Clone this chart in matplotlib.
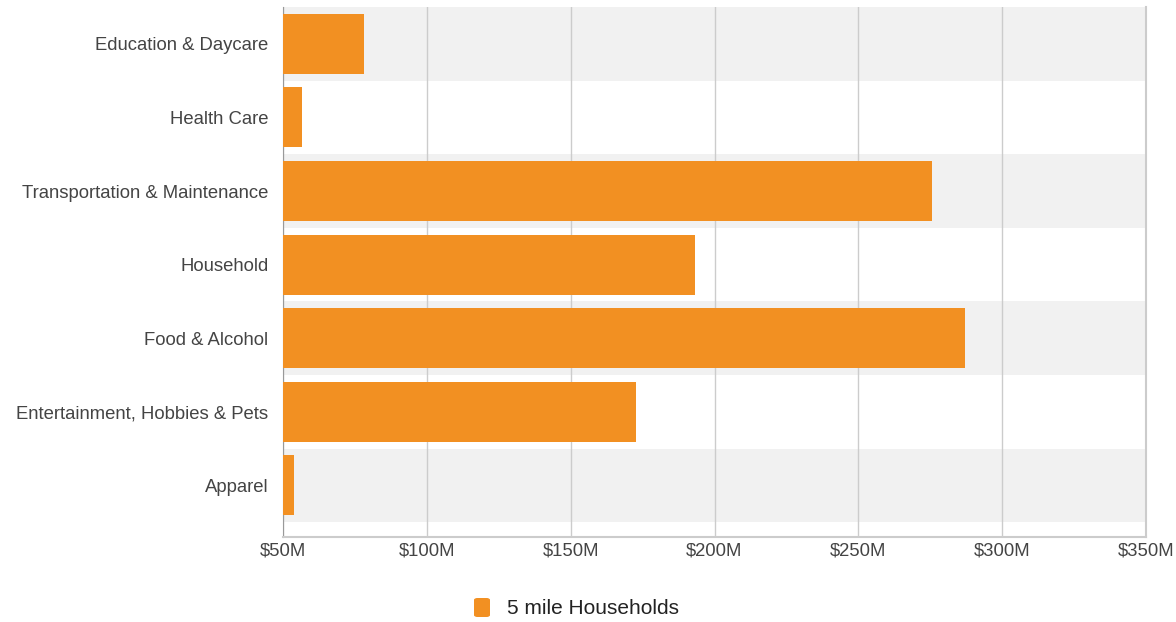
import matplotlib
matplotlib.use("Agg")
import matplotlib.pyplot as plt
from matplotlib.patches import FancyBboxPatch

plt.rcParams["font.family"] = ["Liberation Sans", "DejaVu Sans"]

categories = ["Education & Daycare", "Health Care", "Transportation & Maintenance",
              "Household", "Food & Alcohol", "Entertainment, Hobbies & Pets", "Apparel"]
values = [78.2, 56.6, 275.7, 193.3, 287.1, 172.7, 53.8]  # $M, 5 mile households
x_ticks = [50, 100, 150, 200, 250, 300, 350]
x_labels = ["$50M", "$100M", "$150M", "$200M", "$250M", "$300M", "$350M"]
series_name = "5 mile Households"

BAR = "#F29022"
BAND = "#F1F1F1"
TXT = "#444444"

fig = plt.figure(figsize=(11.76, 6.22), dpi=100)
W, H = 1176, 622
ax = fig.add_axes([283 / W, 1 - 537 / H, (1146 - 283) / W, (537 - 7) / H])

# alternating row bands
for i in range(len(categories)):
    if i % 2 == 0:
        ax.axhspan(i - 0.5, i + 0.5, color=BAND, lw=0, zorder=0)

ax.barh(range(len(categories)), [v - 50 for v in values], left=50, height=0.815,
        color=BAR, zorder=3)

ax.set_xlim(50, 350)
ax.set_ylim(6.7, -0.5)
ax.set_xticks(x_ticks)
ax.set_xticklabels(x_labels)
ax.set_yticks(range(len(categories)))
ax.set_yticklabels(categories)
ax.tick_params(axis="both", length=0, labelsize=13.3, labelcolor=TXT)
ax.tick_params(axis="x", pad=4)
ax.tick_params(axis="y", pad=10.5)
ax.xaxis.grid(True, color="#CCCCCC", lw=1, zorder=1)
ax.set_axisbelow(True)

ax.spines["top"].set_visible(False)
ax.spines["left"].set_color("#999999")
ax.spines["bottom"].set_color("#CCCCCC")
ax.spines["bottom"].set_linewidth(1.5)
ax.spines["right"].set_color("#CCCCCC")
ax.spines["right"].set_linewidth(1.5)

# legend: rounded swatch + label
fig.patches.append(FancyBboxPatch((474 / W, 1 - 617 / H), 16 / W, 19 / H,
                                  boxstyle="round,pad=0,rounding_size=0.003",
                                  transform=fig.transFigure, facecolor=BAR,
                                  edgecolor="none"))
fig.text(507 / W, 1 - 608 / H, series_name, fontsize=15, color="#222222",
         ha="left", va="center")

fig.savefig("out.png", dpi=100)
